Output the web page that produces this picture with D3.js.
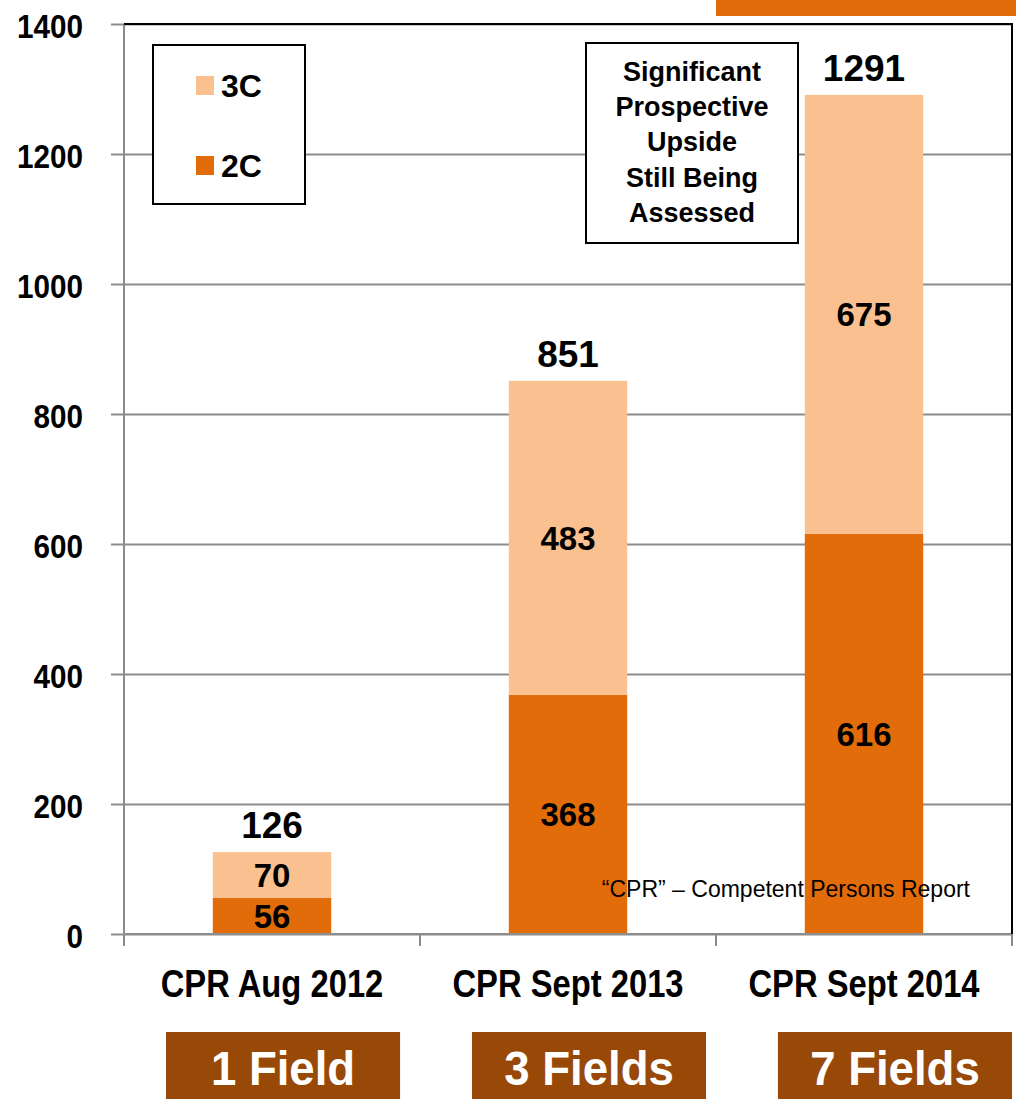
<!DOCTYPE html>
<html>
<head>
<meta charset="utf-8">
<script src="https://cdn.jsdelivr.net/npm/d3@7"></script>
<style>
  body { margin: 0; background: #fff; }
  svg { display: block; }
  text { font-family: "Liberation Sans", Arial, sans-serif; }
</style>
</head>
<body>
<div id="canvas"></div>
<script>
// chart values
var categories = ["CPR Aug 2012", "CPR Sept 2013", "CPR Sept 2014"];
var values2C = [56, 368, 616];
var values3C = [70, 483, 675];
var totals = [126, 851, 1291];
var fieldLabels = ["1 Field", "3 Fields", "7 Fields"];
var yTicks = [0, 200, 400, 600, 800, 1000, 1200, 1400];
var legendLabels = ["3C", "2C"];
var noteLines = ["Significant", "Prospective", "Upside", "Still Being", "Assessed"];
var footnote = "\u201cCPR\u201d \u2013 Competent Persons Report";

var colors = {"2C": "#e36c0a", "3C": "#fac090"};
var W = 1016, H = 1099;
//plot edges (window.top is reserved so use other names)
var plotL = 124, plotR = 1012, plotT = 24, plotB = 934;

var svg = d3.select("#canvas").append("svg")
  .attr("width", W).attr("height", H);

var x = d3.scaleBand().domain(categories).range([plotL, plotR]).padding(0);
var y = d3.scaleLinear().domain([0, 1400]).range([plotB, plotT]);
var barW = x.bandwidth() * 0.4;

//gridlines
svg.append("g")
  .attr("transform", "translate(" + plotL + ",0)")
  .call(d3.axisLeft(y).tickValues(yTicks).tickSize(-(plotR - plotL)).tickFormat(""))
  .call(function(g){
    g.select(".domain").remove();
    g.selectAll("line").attr("stroke", "#8c8c8c").attr("stroke-width", 2);
  });

//stacked bars
var rows = categories.map(function(c, i){ return {cat: c, "2C": values2C[i], "3C": values3C[i]}; });
var stack = d3.stack().keys(["2C", "3C"])(rows);

var layers = svg.selectAll(".layer").data(stack).enter().append("g")
  .attr("class", "layer")
  .attr("fill", function(d){ return colors[d.key]; });

layers.selectAll("rect").data(function(d){ return d; }).enter().append("rect")
  .attr("x", function(d){ return x(d.data.cat) + x.bandwidth() / 2 - barW / 2; })
  .attr("width", barW)
  .attr("y", function(d){ return y(d[1]); })
  .attr("height", function(d){ return y(d[0]) - y(d[1]); });

//segment labels
layers.selectAll("text").data(function(d){ return d.map(function(p){ p.key = d.key; return p; }); }).enter().append("text")
  .attr("x", function(d){ return x(d.data.cat) + x.bandwidth() / 2; })
  .attr("y", function(d){ return (y(d[0]) + y(d[1])) / 2; })
  .attr("dy", "0.36em")
  .attr("text-anchor", "middle")
  .attr("fill", "#000")
  .attr("font-weight", "bold")
  .attr("font-size", 33)
  .text(function(d){ return d.data[d.key]; });

//totals
svg.selectAll(".total").data(totals).enter().append("text")
  .attr("class", "total")
  .attr("x", function(d, i){ return x(categories[i]) + x.bandwidth() / 2; })
  .attr("y", function(d){ return y(d) - 14; })
  .attr("text-anchor", "middle")
  .attr("font-weight", "bold")
  .attr("font-size", 37)
  .text(function(d){ return d; });

//y axis with outward ticks, labels a bit squeezed
var yPad = 28, yTick = 13, ySqueeze = 0.9;
svg.append("g")
  .attr("transform", "translate(" + plotL + ",0)")
  .call(d3.axisLeft(y).tickValues(yTicks).tickFormat(d3.format("d")).tickSizeInner(yTick).tickSizeOuter(0).tickPadding(yPad))
  .call(function(g){
    g.select(".domain").remove();
    g.selectAll("line").attr("stroke", "#8c8c8c").attr("stroke-width", 2);
    g.selectAll("text")
      .attr("font-family", "'Liberation Sans', Arial, sans-serif")
      .attr("font-size", 33).attr("font-weight", "bold").attr("fill", "#000")
      .attr("x", -(yPad + yTick) / ySqueeze)
      .attr("transform", "scale(" + ySqueeze + ",1)")
      .attr("dy", "0.42em");
  });
svg.append("line").attr("x1", plotL).attr("x2", plotL).attr("y1", plotT).attr("y2", plotB + 12)
  .attr("stroke", "#8c8c8c").attr("stroke-width", 2);

//x axis
svg.append("line").attr("x1", plotL).attr("x2", plotR).attr("y1", plotB).attr("y2", plotB)
  .attr("stroke", "#8c8c8c").attr("stroke-width", 2);
var bounds = categories.map(function(c){ return x(c); }).concat([x.range()[1]]);
svg.selectAll(".xtick").data(bounds).enter().append("line")
  .attr("x1", function(d){ return d; }).attr("x2", function(d){ return d; })
  .attr("y1", plotB).attr("y2", plotB + 12)
  .attr("stroke", "#8c8c8c").attr("stroke-width", 2);

//category labels, squeezed like the narrow font in the original
svg.selectAll(".xlabel").data(categories).enter().append("text")
  .attr("transform", function(d){ return "translate(" + (x(d) + x.bandwidth() / 2) + ",997) scale(0.84,1)"; })
  .attr("text-anchor", "middle")
  .attr("font-weight", "bold")
  .attr("font-size", 39)
  .text(function(d){ return d; });

//plot border top and right
svg.append("path")
  .attr("d", "M" + plotL + "," + plotT + "H" + plotR + "V" + plotB)
  .attr("fill", "none").attr("stroke", "#000").attr("stroke-width", 2);

//legend
var legend = svg.append("g");
legend.append("rect").attr("x", 153).attr("y", 45).attr("width", 152).attr("height", 159)
  .attr("fill", "#fff").attr("stroke", "#000").attr("stroke-width", 2);
legend.selectAll(".sw").data(legendLabels).enter().append("rect")
  .attr("x", 196).attr("y", function(d, i){ return 76 + i * 80; })
  .attr("width", 18).attr("height", 19)
  .attr("fill", function(d){ return colors[d]; });
legend.selectAll(".lt").data(legendLabels).enter().append("text")
  .attr("x", 221).attr("y", function(d, i){ return 97 + i * 80; })
  .attr("font-weight", "bold").attr("font-size", 32)
  .text(function(d){ return d; });

//annotation box
svg.append("rect").attr("x", 586).attr("y", 43).attr("width", 212).attr("height", 200)
  .attr("fill", "#fff").attr("stroke", "#000").attr("stroke-width", 2);
svg.selectAll(".note").data(noteLines).enter().append("text")
  .attr("x", 692).attr("y", function(d, i){ return 81 + i * 35.2; })
  .attr("text-anchor", "middle")
  .attr("font-weight", "bold").attr("font-size", 27)
  .text(function(d){ return d; });

//footnote
svg.append("text").attr("x", 970).attr("y", 897)
  .attr("text-anchor", "end").attr("font-size", 23).attr("fill", "#000")
  .text(footnote);

//top orange strip
svg.append("rect").attr("x", 716).attr("y", 0).attr("width", W - 716).attr("height", 16)
  .attr("fill", "#e36c0a");

//field boxes
var fx = d3.scaleBand().domain(fieldLabels).range([166, 1012]).paddingInner(0.235).paddingOuter(0);
svg.selectAll(".fbox").data(fieldLabels).enter().append("rect")
  .attr("x", function(d){ return fx(d); }).attr("y", 1032)
  .attr("width", fx.bandwidth()).attr("height", H - 1032)
  .attr("fill", "#984807");
svg.selectAll(".ftext").data(fieldLabels).enter().append("text")
  .attr("transform", function(d){ return "translate(" + (fx(d) + fx.bandwidth() / 2) + ",1085) scale(0.93,1)"; })
  .attr("text-anchor", "middle")
  .attr("fill", "#fff").attr("font-weight", "bold").attr("font-size", 49)
  .text(function(d){ return d; });
</script>
</body>
</html>
